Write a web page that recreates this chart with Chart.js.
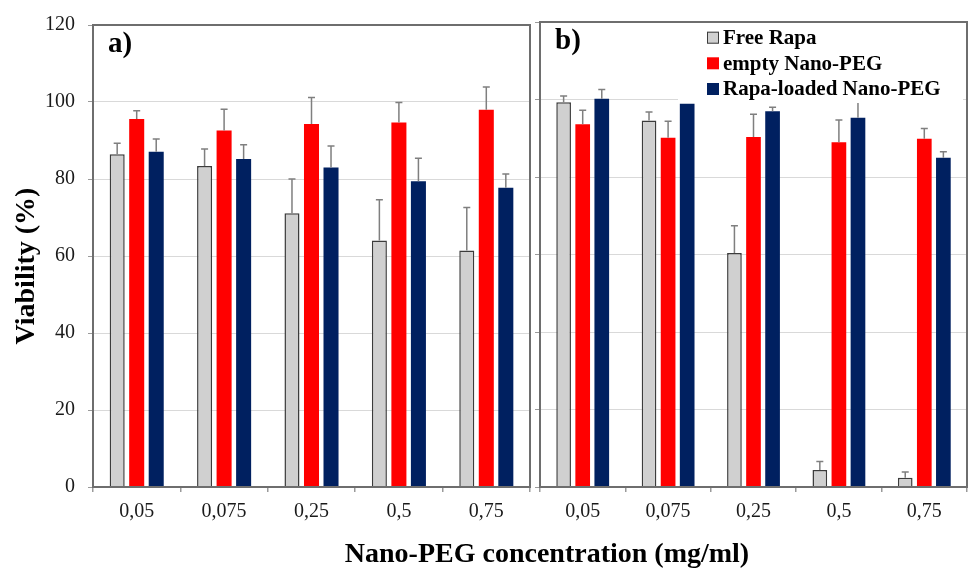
<!DOCTYPE html>
<html><head><meta charset="utf-8">
<script src="https://cdn.jsdelivr.net/npm/chart.js@4.4.1/dist/chart.umd.min.js"></script>
<style>
html,body{margin:0;padding:0;background:#fff;}
#wrap{position:relative;width:968px;height:569px;overflow:hidden;background:#fff;}
#ca{position:absolute;left:0;top:0;}
#cb{position:absolute;left:533px;top:0;}
#xt{position:absolute;left:547px;top:537px;transform:translateX(-50%);font-family:'Liberation Serif';font-weight:bold;font-size:28px;white-space:nowrap;line-height:32px;color:#000;}
</style></head>
<body><div id="wrap"><canvas id="ca" width="533" height="569"></canvas><canvas id="cb" width="435" height="569"></canvas><div id="xt"></div></div>
<script>
// ---- data ----
const categories = ['0,05', '0,075', '0,25', '0,5', '0,75'];
const seriesNames = ['Free Rapa', 'empty Nano-PEG', 'Rapa-loaded Nano-PEG'];
const yTicks = [0, 20, 40, 60, 80, 100, 120];
const xTitle = 'Nano-PEG concentration (mg/ml)';
const yTitle = 'Viability (%)';
const panelLabels = ['a)', 'b)'];

// panel a
const freeRapaA = [86.4, 83.4, 71.1, 64.0, 61.4];
const freeRapaErrA = [2.9, 4.4, 8.9, 10.6, 11.2];
const emptyNanoA = [95.6, 92.6, 94.3, 94.7, 98.0];
const emptyNanoErrA = [2.1, 5.5, 6.9, 5.2, 5.9];
const loadedNanoA = [87.1, 85.2, 83.0, 79.4, 77.7];
const loadedNanoErrA = [3.3, 3.7, 5.6, 6.0, 3.6];

// panel b
const freeRapaB = [99.3, 94.6, 60.4, 4.4, 2.4];
const freeRapaErrB = [1.6, 2.2, 7.0, 2.2, 1.5];
const emptyNanoB = [93.6, 90.1, 90.3, 89.0, 89.9];
const emptyNanoErrB = [3.6, 4.3, 5.9, 5.7, 2.6];
const loadedNanoB = [100.2, 98.9, 97.0, 95.3, 85.0];
const loadedNanoErrB = [2.4, 0, 1.0, 4.5, 1.5];

// ---- styles ----
const COLORS = ['#d0d0d0', '#ff0000', '#002060'];
const BORDERS = ['#3c3c3c', '#ff0000', '#002060'];
const BORDERW = [1.5, 0, 0];
const SERIF = 'Liberation Serif';

document.getElementById('xt').textContent = xTitle;

const errorBarPlugin = {
  id: 'errbars',
  afterDatasetsDraw(chart) {
    const ctx = chart.ctx, y = chart.scales.y;
    chart.data.datasets.forEach((ds, i) => {
      const meta = chart.getDatasetMeta(i);
      meta.data.forEach((bar, j) => {
        const e = ds.errors[j];
        if (!e) return;
        const top = y.getPixelForValue(ds.data[j] + e);
        ctx.save();
        ctx.strokeStyle = '#7f7f7f';
        ctx.lineWidth = 1.5;
        ctx.beginPath();
        ctx.moveTo(bar.x, bar.y);
        ctx.lineTo(bar.x, top);
        ctx.moveTo(bar.x - 3.5, top);
        ctx.lineTo(bar.x + 3.5, top);
        ctx.stroke();
        ctx.restore();
      });
    });
  }
};

const decorPlugin = {
  id: 'decor',
  afterDraw(chart, args, opts) {
    const ctx = chart.ctx, a = chart.chartArea;
    ctx.save();
    if (opts.legend) {
      ctx.fillStyle = '#fff';
      ctx.fillRect(a.left + 138, a.top + 1, 285, 80);
      ctx.font = 'bold 21px ' + SERIF;
      ctx.textBaseline = 'middle';
      ctx.textAlign = 'left';
      const rows = [37.7, 63.3, 89];
      chart.data.datasets.forEach((ds, i) => {
        const yy = rows[i];
        ctx.fillStyle = ds.backgroundColor;
        ctx.fillRect(a.left + 167, yy - 6, 12, 12);
        if (i === 0) {
          ctx.strokeStyle = '#3c3c3c';
          ctx.lineWidth = 1;
          ctx.strokeRect(a.left + 167.5, yy - 5.5, 11, 11);
        }
        ctx.fillStyle = '#000';
        ctx.fillText(ds.label, a.left + 183, yy + 1);
      });
    }
    if (opts.yTitle) {
      ctx.save();
      ctx.translate(27, 266);
      ctx.rotate(-Math.PI / 2);
      ctx.font = 'bold 28px ' + SERIF;
      ctx.fillStyle = '#000';
      ctx.textAlign = 'center';
      ctx.textBaseline = 'middle';
      ctx.fillText(opts.yTitle, 0, 0);
      ctx.restore();
    }
    // panel frame
    ctx.strokeStyle = '#6e6e6e';
    ctx.lineWidth = 2;
    ctx.strokeRect(a.left, a.top, a.right - a.left, a.bottom - a.top);
    // panel label
    ctx.fillStyle = '#000';
    ctx.font = 'bold 29px ' + SERIF;
    ctx.textAlign = 'left';
    ctx.textBaseline = 'middle';
    ctx.fillText(opts.label, a.left + 15, a.top + 20);
    ctx.restore();
  }
};

function makeChart(id, vals, errs, label, isLeft) {
  const datasets = seriesNames.map((n, i) => ({
    label: n,
    data: vals[i],
    errors: errs[i],
    backgroundColor: COLORS[i],
    borderColor: BORDERS[i],
    borderWidth: BORDERW[i],
    categoryPercentage: 0.67,
    barPercentage: 0.77
  }));
  return new Chart(document.getElementById(id), {
    type: 'bar',
    data: { labels: categories, datasets },
    plugins: [errorBarPlugin, decorPlugin],
    options: {
      responsive: false,
      animation: false,
      devicePixelRatio: 1,
      layout: { padding: { top: 22, right: isLeft ? 3 : 1, left: 0, bottom: 0 } },
      plugins: {
        legend: { display: false },
        tooltip: { enabled: false },
        decor: { label: label, legend: !isLeft, yTitle: isLeft ? yTitle : '' }
      },
      scales: {
        x: {
          afterFit: s => { s.height = 82; },
          grid: { offset: true, drawOnChartArea: false, drawTicks: true, tickLength: 5, color: '#9a9a9a', lineWidth: 1.5 },
          border: { display: false },
          ticks: { font: { family: SERIF, size: 20 }, color: '#1a1a1a', padding: 8, maxRotation: 0 }
        },
        y: {
          min: 0, max: 120,
          afterBuildTicks: s => { s.ticks = yTicks.map(v => ({ value: v })); },
          afterFit: s => { s.width = isLeft ? 93 : 7; },
          grid: { color: '#d9d9d9', lineWidth: 1, tickLength: 5, tickColor: '#9a9a9a', drawTicks: true },
          border: { display: false },
          ticks: { display: isLeft, font: { family: SERIF, size: 20 }, color: '#1a1a1a', padding: 13 },
          title: { display: false }
        }
      }
    }
  });
}

makeChart('ca', [freeRapaA, emptyNanoA, loadedNanoA], [freeRapaErrA, emptyNanoErrA, loadedNanoErrA], panelLabels[0], true);
makeChart('cb', [freeRapaB, emptyNanoB, loadedNanoB], [freeRapaErrB, emptyNanoErrB, loadedNanoErrB], panelLabels[1], false);
</script>
</body></html>
